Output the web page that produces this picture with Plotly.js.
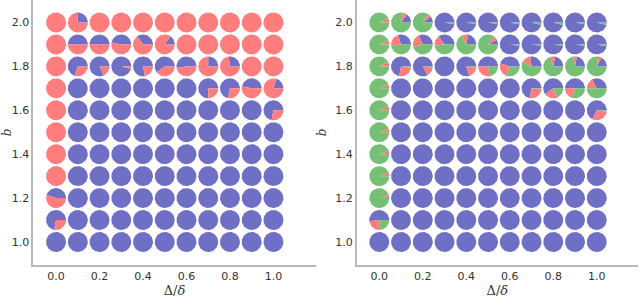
<!DOCTYPE html>
<html>
<head>
<meta charset="utf-8">
<script src="https://cdn.plot.ly/plotly-3.0.1.min.js"></script>
<style>html,body{margin:0;padding:0;background:#fff}#chart{width:640px;height:298px}</style>
</head>
<body>
<div id="chart"></div>
<script>
// x categories (Δ/δ) and rows (b), top row first
const xVals = [0.0, 0.1, 0.2, 0.3, 0.4, 0.5, 0.6, 0.7, 0.8, 0.9, 1.0];
const bVals = [2.0, 1.9, 1.8, 1.7, 1.6, 1.5, 1.4, 1.3, 1.2, 1.1, 1.0];
const xTicks = [0.0, 0.2, 0.4, 0.6, 0.8, 1.0];
const yTicks = [1.0, 1.2, 1.4, 1.6, 1.8, 2.0];

// Left panel: shares per pie (rows follow bVals)
const leftBlue = [
  [0, 0.26, 0, 0, 0, 0, 0, 0, 0, 0, 0],
  [0, 0.5, 0.5, 0.47, 0.35, 0.15, 0, 0, 0, 0, 0],
  [0, 0.7, 0.82, 0.96, 0.78, 0.6, 0.52, 0.25, 0.27, 0, 0],
  [0, 1, 1, 1, 1, 1, 1, 0.75, 0.72, 0.47, 0.2],
  [0, 1, 1, 1, 1, 1, 1, 1, 1, 1, 0.72],
  [0, 1, 1, 1, 1, 1, 1, 1, 1, 1, 1],
  [0, 1, 1, 1, 1, 1, 1, 1, 1, 1, 1],
  [0, 1, 1, 1, 1, 1, 1, 1, 1, 1, 1],
  [0.45, 1, 1, 1, 1, 1, 1, 1, 1, 1, 1],
  [0.72, 1, 1, 1, 1, 1, 1, 1, 1, 1, 1],
  [1, 1, 1, 1, 1, 1, 1, 1, 1, 1, 1]
];
const leftRed = [
  [1, 0.74, 1, 1, 1, 1, 1, 1, 1, 1, 1],
  [1, 0.5, 0.5, 0.53, 0.65, 0.85, 1, 1, 1, 1, 1],
  [1, 0.3, 0.18, 0.04, 0.22, 0.4, 0.48, 0.75, 0.73, 1, 1],
  [1, 0, 0, 0, 0, 0, 0, 0.25, 0.28, 0.53, 0.8],
  [1, 0, 0, 0, 0, 0, 0, 0, 0, 0, 0.28],
  [1, 0, 0, 0, 0, 0, 0, 0, 0, 0, 0],
  [1, 0, 0, 0, 0, 0, 0, 0, 0, 0, 0],
  [1, 0, 0, 0, 0, 0, 0, 0, 0, 0, 0],
  [0.55, 0, 0, 0, 0, 0, 0, 0, 0, 0, 0],
  [0.28, 0, 0, 0, 0, 0, 0, 0, 0, 0, 0],
  [0, 0, 0, 0, 0, 0, 0, 0, 0, 0, 0]
];

// Right panel
const rightBlue = [
  [0, 0.15, 0.1, 0.97, 0.97, 0.97, 0.97, 0.96, 0.96, 0.97, 0.96],
  [0, 0.3, 0.32, 0.35, 0.22, 0.08, 0.98, 0.98, 0.98, 0.98, 0.97],
  [0, 0.72, 0.83, 1, 0.8, 0.5, 0.45, 0.27, 0.22, 0.22, 0.17],
  [0, 1, 1, 1, 1, 1, 1, 0.72, 0.6, 0.5, 0.33],
  [0, 1, 1, 1, 1, 1, 1, 1, 1, 1, 0.68],
  [0, 1, 1, 1, 1, 1, 1, 1, 1, 1, 1],
  [0, 1, 1, 1, 1, 1, 1, 1, 1, 1, 1],
  [0, 1, 1, 1, 1, 1, 1, 1, 1, 1, 1],
  [0, 1, 1, 1, 1, 1, 1, 1, 1, 1, 1],
  [0.52, 1, 1, 1, 1, 1, 1, 1, 1, 1, 1],
  [1, 1, 1, 1, 1, 1, 1, 1, 1, 1, 1]
];
const rightRed = [
  [0.07, 0.07, 0.06, 0, 0, 0, 0, 0, 0, 0, 0],
  [0.08, 0.22, 0.22, 0.17, 0.1, 0.07, 0, 0, 0, 0, 0],
  [0.08, 0.26, 0.15, 0, 0.18, 0.28, 0.25, 0.15, 0.08, 0.06, 0.06],
  [0.07, 0, 0, 0, 0, 0, 0, 0.26, 0.22, 0.2, 0.17],
  [0.07, 0, 0, 0, 0, 0, 0, 0, 0, 0, 0.3],
  [0.06, 0, 0, 0, 0, 0, 0, 0, 0, 0, 0],
  [0.06, 0, 0, 0, 0, 0, 0, 0, 0, 0, 0],
  [0.06, 0, 0, 0, 0, 0, 0, 0, 0, 0, 0],
  [0.05, 0, 0, 0, 0, 0, 0, 0, 0, 0, 0],
  [0.25, 0, 0, 0, 0, 0, 0, 0, 0, 0, 0],
  [0, 0, 0, 0, 0, 0, 0, 0, 0, 0, 0]
];
const rightGreen = [
  [0.93, 0.78, 0.84, 0.03, 0.03, 0.03, 0.03, 0.04, 0.04, 0.03, 0.04],
  [0.92, 0.48, 0.46, 0.48, 0.68, 0.85, 0.02, 0.02, 0.02, 0.02, 0.03],
  [0.92, 0.02, 0.02, 0, 0.02, 0.22, 0.3, 0.58, 0.7, 0.72, 0.77],
  [0.93, 0, 0, 0, 0, 0, 0, 0.02, 0.18, 0.3, 0.5],
  [0.93, 0, 0, 0, 0, 0, 0, 0, 0, 0, 0.02],
  [0.94, 0, 0, 0, 0, 0, 0, 0, 0, 0, 0],
  [0.94, 0, 0, 0, 0, 0, 0, 0, 0, 0, 0],
  [0.94, 0, 0, 0, 0, 0, 0, 0, 0, 0, 0],
  [0.95, 0, 0, 0, 0, 0, 0, 0, 0, 0, 0],
  [0.23, 0, 0, 0, 0, 0, 0, 0, 0, 0, 0],
  [0, 0, 0, 0, 0, 0, 0, 0, 0, 0, 0]
];

// ---- styling / geometry ----
const W = 640, H = 298;
const RED = '#ff7d7d', BLUE = '#6f6fc6', GREEN = '#76c076';
const radiusPx = 10;
const yRange = [0.895, 2.1025];
const yDomain = [0.1107, 1.0];
const panels = [
  {xa: 'x', ya: 'y', xRange: [-0.106, 1.196], xDomain: [0.0516, 0.4938],
   series: [[leftBlue, BLUE], [leftRed, RED]]},
  {xa: 'x2', ya: 'y2', xRange: [-0.104, 1.19], xDomain: [0.5573, 0.997],
   series: [[rightBlue, BLUE], [rightRed, RED], [rightGreen, GREEN]]}
];

const traces = [];
panels.forEach(p => {
  const rx = radiusPx * (p.xRange[1] - p.xRange[0]) / ((p.xDomain[1] - p.xDomain[0]) * W);
  const ry = radiusPx * (yRange[1] - yRange[0]) / ((yDomain[1] - yDomain[0]) * H);
  const polys = p.series.map(() => ({x: [], y: []}));
  bVals.forEach((b, i) => {
    xVals.forEach((xv, j) => {
      let cum = 0;
      p.series.forEach((s, k) => {
        const f = s[0][i][j];
        if (f > 0.0001) {
          const a0 = cum * 2 * Math.PI, a1 = (cum + f) * 2 * Math.PI;
          const n = Math.max(3, Math.ceil(f * 90));
          const P = polys[k];
          const full = f > 0.999;
          if (!full) { P.x.push(xv); P.y.push(b); }
          for (let t = 0; t <= n; t++) {
            const a = a0 + (a1 - a0) * t / n;
            P.x.push(xv + rx * Math.cos(a));
            P.y.push(b + ry * Math.sin(a));
          }
          if (!full) { P.x.push(xv); P.y.push(b); }
          P.x.push(null); P.y.push(null);
        }
        cum += f;
      });
    });
  });
  p.series.forEach((s, k) => {
    traces.push({
      type: 'scatter', mode: 'lines', fill: 'toself', fillcolor: s[1],
      line: {width: 0, color: s[1]}, x: polys[k].x, y: polys[k].y,
      xaxis: p.xa, yaxis: p.ya, hoverinfo: 'skip', showlegend: false
    });
  });
});

const font = {family: 'DejaVu Sans, sans-serif', size: 11, color: '#333333'};
function xAxis(p, anchor) {
  return {domain: p.xDomain, range: p.xRange, anchor: anchor, tickvals: xTicks,
    ticktext: xTicks.map(v => v.toFixed(1)), showgrid: false, zeroline: false,
    showline: true, linecolor: '#b8b8b8', linewidth: 1.6, ticks: '', automargin: false,
    tickfont: font,
    title: {text: 'Δ/<i>δ</i>', font: {family: 'DejaVu Serif, serif', size: 13, color: '#333333'}, standoff: 4}};
}
function yAxis(anchor) {
  return {domain: yDomain, range: yRange, anchor: anchor, tickvals: yTicks,
    ticktext: yTicks.map(v => v.toFixed(1)), showgrid: false, zeroline: false,
    showline: true, linecolor: '#b8b8b8', linewidth: 1.6, ticks: '', automargin: false,
    tickfont: font,
    title: {text: '<i>b</i>', font: {family: 'DejaVu Serif, serif', size: 12, color: '#333333'}, standoff: 6}};
}
const layout = {
  width: W, height: H, margin: {l: 0, r: 0, t: 0, b: 0},
  paper_bgcolor: '#ffffff', plot_bgcolor: '#ffffff',
  xaxis: xAxis(panels[0], 'y'), yaxis: yAxis('x'),
  xaxis2: xAxis(panels[1], 'y2'), yaxis2: yAxis('x2'),
  showlegend: false
};
Plotly.newPlot('chart', traces, layout, {displayModeBar: false, staticPlot: true});
</script>
</body>
</html>
